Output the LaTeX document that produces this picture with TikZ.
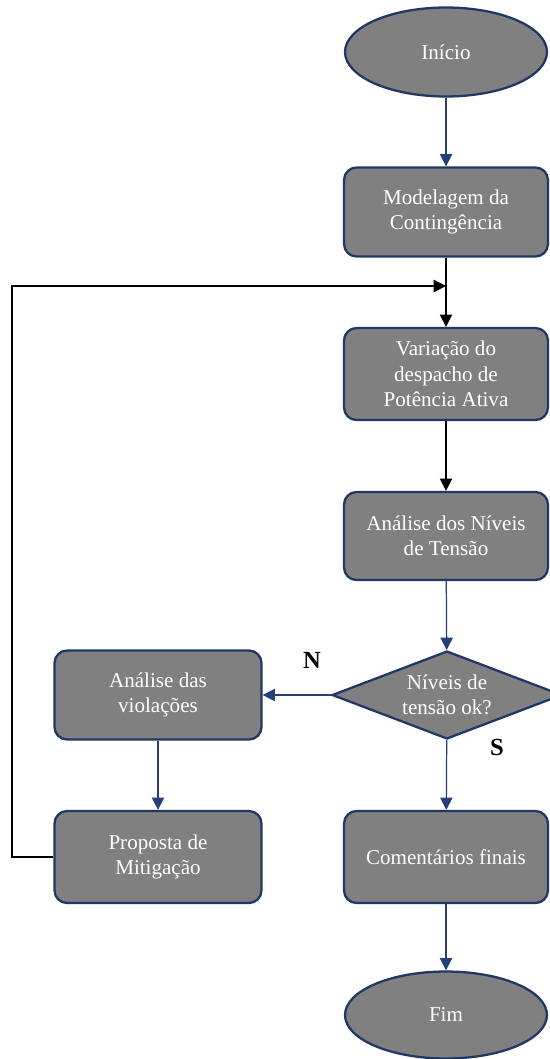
\documentclass[tikz,border=0pt]{standalone}
\usepackage{fontspec}
\setmainfont{Liberation Serif}
\usetikzlibrary{shapes.geometric,arrows.meta}
\definecolor{boxfill}{HTML}{808080}
\definecolor{navy}{HTML}{1F3864}
\definecolor{navyline}{HTML}{23407A}
\tikzset{
  basebox/.style={fill=boxfill, draw=navy, line width=1.3pt, text=white,
    font=\fontsize{12}{14.5}\selectfont, align=center, inner sep=1pt},
  procbox/.style={basebox, rectangle, rounded corners=0.25cm,
    minimum width=4.08cm},
  termbox/.style={basebox, ellipse, minimum width=4.04cm},
  decbox/.style={basebox, diamond, aspect=2.6, inner sep=0pt,
    minimum width=4.6cm, minimum height=1.76cm},
  navyarrow/.style={draw=navyline, line width=0.7pt,
    -{Triangle[length=7pt,width=7pt]}},
  blackarrow/.style={draw=black, line width=0.7pt,
    -{Triangle[length=7pt,width=7pt]}},
  branchlabel/.style={font=\fontsize{14}{16}\selectfont\bfseries, text=black}
}
\begin{document}
\begin{tikzpicture}[x=0.02cm, y=-0.02cm]
\useasboundingbox (0,0) rectangle (550,1059);
\clip (0,0) rectangle (550,1059);
\fill[white] (0,0) rectangle (550,1059);

\node[termbox, minimum height=1.78cm] (ini) at (446,52) {Início};
\node[procbox, minimum height=1.78cm] (mod) at (446,212) {Modelagem da\\Contingência};
\node[procbox, minimum height=1.84cm] (var) at (446,374) {Variação do\\despacho de\\Potência Ativa};
\node[procbox, minimum height=1.76cm] (ana) at (446,536) {Análise dos Níveis\\de Tensão};
\node[decbox] (dec) at (447,695) {Níveis de\\tensão ok?};
\node[procbox, minimum width=4.14cm, minimum height=1.78cm] (vio) at (158,695) {Análise das\\violações};
\node[procbox, minimum width=4.14cm, minimum height=1.84cm] (prop) at (158,857) {Proposta de\\Mitigação};
\node[procbox, minimum height=1.84cm] (com) at (446,857) {Comentários finais};
\node[termbox, minimum height=1.74cm] (fim) at (446,1015) {Fim};

\node[branchlabel] (lN) at (312,660) {N};
\node[branchlabel] (lS) at (497,747) {S};

\coordinate (lc) at (12,286);
\coordinate (jn) at (446,286);

\draw[navyarrow] (ini) -- (mod);
\draw[blackarrow] (mod) -- (var);
\draw[blackarrow] (var) -- (ana);
\draw[navyarrow] (ana) -- (dec);
\draw[navyarrow] (dec.west) -- (vio.east);
\draw[navyarrow] (vio) -- (prop);
\draw[navyarrow] (dec) -- (com);
\draw[navyarrow] (com) -- (fim);
\draw[blackarrow] (prop.west) -| (lc) -- (jn);
\end{tikzpicture}
\end{document}
